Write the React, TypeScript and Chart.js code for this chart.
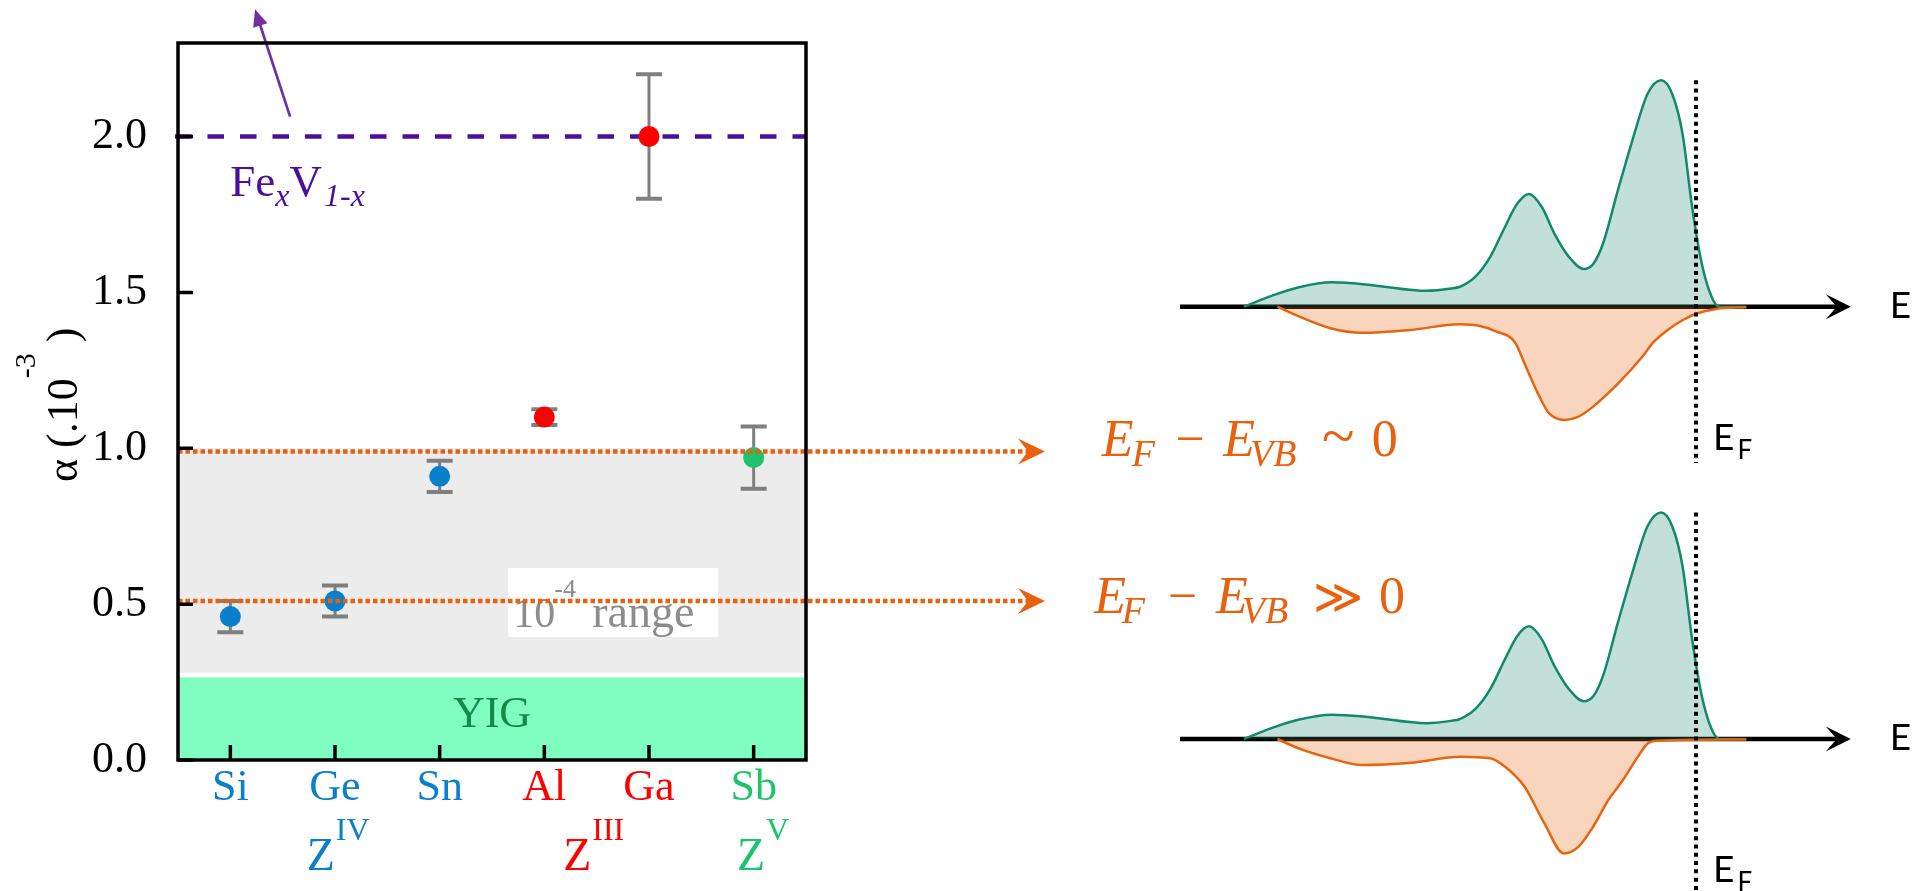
import React, { useEffect, useRef } from "react";
import { Chart, registerables } from "chart.js";

Chart.register(...registerables);

// ---------------- left panel data ----------------
const elements = ["Si", "Ge", "Sn", "Al", "Ga", "Sb"];
const alphaValues = [0.46, 0.51, 0.91, 1.1, 2.0, 0.97];
const alphaErrors = [0.05, 0.05, 0.05, 0.025, 0.2, 0.1];
const elementColors = ["#0a80cc", "#0a80cc", "#0a80cc", "#ff0000", "#ff0000", "#1dc46b"];
const yTickValues = [0, 0.5, 1.0, 1.5, 2.0];
const groupSymbols = ["Z", "Z", "Z"];
const groupValences = ["IV", "III", "V"];
const groupColors = ["#0a80cc", "#ff0000", "#1dc46b"];
const groupStartIndex = [0.73, 3.18, 4.84];
const yigBand = [0, 0.265];
const rangeBand = [0.28, 1.0];
const fexvAlpha = 2.0;
const fermiLevelMarks = [0.99, 0.51];

// ---------------- right panel (DOS sketches) data ----------------
const majorityEnergy = [-7.01, -6.56, -6.17, -5.64, -5.02, -4.18, -3.8, -3.66, -3.42, -3.19, -2.96, -2.77, -2.59, -2.39, -2.2, -1.97, -1.74, -1.59, -1.44, -1.21, -0.97, -0.75, -0.54, -0.37, -0.21, -0.06, 0.09, 0.24, 0.36, 0.78];
const majorityDos = [0, 0.1, 0.17, 0.215, 0.19, 0.14, 0.16, 0.176, 0.265, 0.44, 0.706, 0.91, 0.995, 0.88, 0.65, 0.44, 0.333, 0.38, 0.56, 1.03, 1.5, 1.88, 2.0, 1.88, 1.53, 0.88, 0.38, 0.09, 0, 0];
const minorityEnergyTop = [-6.49, -6.14, -5.67, -5.18, -4.43, -3.66, -3.35, -3.11, -2.8, -2.66, -2.43, -2.28, -2.04, -1.82, -1.59, -1.21, -0.83, -0.67, -0.45, -0.21, 0.01, 0.31, 0.78];
const minorityDosTop = [0, -0.09, -0.19, -0.23, -0.205, -0.156, -0.17, -0.215, -0.32, -0.5, -0.79, -0.94, -1.0, -0.97, -0.88, -0.68, -0.44, -0.32, -0.21, -0.12, -0.06, -0.02, -0.005];
const minorityEnergyBottom = [-6.49, -6.13, -5.67, -5.18, -4.42, -3.65, -3.19, -2.96, -2.66, -2.35, -2.05, -1.82, -1.59, -1.36, -1.13, -0.9, -0.75, -0.6, 0.78];
const minorityDosBottom = [0, -0.09, -0.17, -0.23, -0.21, -0.156, -0.17, -0.245, -0.42, -0.745, -1.01, -0.95, -0.77, -0.54, -0.36, -0.156, -0.04, -0.015, -0.005];

const ORANGE = "#e9600f";
const SERIF = '"Liberation Serif"';

function text(ctx: any, s: string, x: number, y: number, font: string, color: string, align: string = "left") {
  ctx.font = font;
  ctx.fillStyle = color;
  ctx.textAlign = align;
  ctx.textBaseline = "alphabetic";
  ctx.fillText(s, x, y);
  return ctx.measureText(s).width;
}

const upperFormula: [string, number, number, string, string][] = [
  ["E", 56.7, 5, `italic 52px ${SERIF}`, "left"],
  ["F", 86.7, 15, `italic 38px ${SERIF}`, "left"],
  ["\u2212", 145, 5, `52px ${SERIF}`, "center"],
  ["E", 178.3, 5, `italic 52px ${SERIF}`, "left"],
  ["VB", 205, 15, `italic 38px ${SERIF}`, "left"],
  ["~", 293.3, 5, `60px ${SERIF}`, "center"],
  ["0", 326.7, 5, `52px ${SERIF}`, "left"],
];
const lowerFormula: [string, number, number, string, string][] = [
  ["E", 49.3, 12, `italic 52px ${SERIF}`, "left"],
  ["F", 76.7, 22, `italic 38px ${SERIF}`, "left"],
  ["\u2212", 137.3, 12, `52px ${SERIF}`, "center"],
  ["E", 171, 12, `italic 52px ${SERIF}`, "left"],
  ["VB", 196.7, 22, `italic 38px ${SERIF}`, "left"],
  ["\u226B", 293, 12, `48px ${SERIF}`, "center"],
  ["0", 334, 12, `52px ${SERIF}`, "left"],
];

const leftPanelPlugin = {
  id: "leftPanel",
  beforeDatasetsDraw(chart: any) {
    const { ctx, chartArea: a } = chart;
    const xs = chart.scales.x;
    const ys = chart.scales.y;
    const W = a.right - a.left;
    ctx.save();
    // bands
    let t = ys.getPixelForValue(yigBand[1]);
    let b = ys.getPixelForValue(yigBand[0]);
    ctx.fillStyle = "#80fdc0";
    ctx.fillRect(a.left, t, W, b - t);
    t = ys.getPixelForValue(rangeBand[1]);
    b = ys.getPixelForValue(rangeBand[0]);
    ctx.fillStyle = "#ececec";
    ctx.fillRect(a.left, t, W, b - t);
    text(ctx, "YIG", (a.left + a.right) / 2, ys.getPixelForValue(0.105), `44px ${SERIF}`, "#148a4a", "center");
    // 10^-4 range label box
    const bx = xs.getPixelForValue(2.655);
    const by = ys.getPixelForValue(0.616);
    ctx.fillStyle = "#ffffff";
    ctx.fillRect(bx, by, 210, 69);
    text(ctx, "10", bx + 5, by + 59, `42px ${SERIF}`, "#8c8c8c");
    text(ctx, "-4", bx + 46, by + 29, `26px ${SERIF}`, "#8c8c8c");
    text(ctx, "range", bx + 84, by + 59, `46px ${SERIF}`, "#8c8c8c");
    // Fe_xV_1-x reference line
    const fy = ys.getPixelForValue(fexvAlpha);
    ctx.strokeStyle = "#4b0f9c";
    ctx.lineWidth = 4.5;
    ctx.setLineDash([16.5, 16]);
    ctx.beginPath();
    ctx.moveTo(a.left - 3, fy);
    ctx.lineTo(a.right, fy);
    ctx.stroke();
    ctx.setLineDash([]);
    const purple = "#4b0f9c";
    let cx = xs.getPixelForValue(0);
    const base = ys.getPixelForValue(1.81);
    cx += text(ctx, "Fe", cx, base, `45px ${SERIF}`, purple);
    cx += text(ctx, "x", cx, base + 10, `italic 32px ${SERIF}`, purple);
    cx += text(ctx, "V", cx, base, `45px ${SERIF}`, purple);
    text(ctx, "1-x", cx + 2, base + 10, `italic 32px ${SERIF}`, purple);
    // purple arrow (off-scale value)
    const x0 = xs.getPixelForValue(0.571), y0 = ys.getPixelForValue(2.064);
    const x1 = xs.getPixelForValue(0.236), y1 = ys.getPixelForValue(2.408);
    const ang = Math.atan2(y1 - y0, x1 - x0);
    ctx.strokeStyle = "#7030a0";
    ctx.fillStyle = "#7030a0";
    ctx.lineWidth = 2.7;
    ctx.beginPath();
    ctx.moveTo(x0, y0);
    ctx.lineTo(x1 - 12 * Math.cos(ang), y1 - 12 * Math.sin(ang));
    ctx.stroke();
    ctx.beginPath();
    ctx.moveTo(x1, y1);
    ctx.lineTo(x1 - 17 * Math.cos(ang) + 7.5 * Math.sin(ang), y1 - 17 * Math.sin(ang) - 7.5 * Math.cos(ang));
    ctx.lineTo(x1 - 17 * Math.cos(ang) - 7.5 * Math.sin(ang), y1 - 17 * Math.sin(ang) + 7.5 * Math.cos(ang));
    ctx.closePath();
    ctx.fill();
    // error bars
    ctx.strokeStyle = "#7f7f7f";
    alphaValues.forEach((v, i) => {
      const px = xs.getPixelForValue(i);
      const top = ys.getPixelForValue(v + alphaErrors[i]);
      const bot = ys.getPixelForValue(v - alphaErrors[i]);
      ctx.lineWidth = 3;
      ctx.beginPath();
      ctx.moveTo(px, top);
      ctx.lineTo(px, bot);
      ctx.stroke();
      ctx.lineWidth = 4;
      ctx.beginPath();
      ctx.moveTo(px - 13, top);
      ctx.lineTo(px + 13, top);
      ctx.moveTo(px - 13, bot);
      ctx.lineTo(px + 13, bot);
      ctx.stroke();
    });
    ctx.restore();
  },
  afterDatasetsDraw(chart: any) {
    const { ctx, chartArea: a } = chart;
    const ys = chart.scales.y;
    ctx.save();
    const tipX = 1045;
    fermiLevelMarks.forEach((lv, k) => {
      const py = ys.getPixelForValue(lv);
      ctx.strokeStyle = ORANGE;
      ctx.fillStyle = ORANGE;
      ctx.lineWidth = 4.5;
      ctx.setLineDash([4.5, 3]);
      ctx.beginPath();
      ctx.moveTo(a.left, py);
      ctx.lineTo(tipX - 15, py);
      ctx.stroke();
      ctx.setLineDash([]);
      ctx.beginPath();
      ctx.moveTo(tipX, py);
      ctx.lineTo(tipX - 27, py - 13);
      ctx.lineTo(tipX - 17, py);
      ctx.lineTo(tipX - 27, py + 13);
      ctx.closePath();
      ctx.fill();
      const pieces = k === 0 ? upperFormula : lowerFormula;
      pieces.forEach(([s, dx, dy, font, al]) => text(ctx, s, tipX + dx, py + dy, font, ORANGE, al));
    });
    ctx.restore();
  },
  afterDraw(chart: any) {
    const { ctx, chartArea: a } = chart;
    const xs = chart.scales.x;
    const ys = chart.scales.y;
    ctx.save();
    ctx.strokeStyle = "#000";
    ctx.lineWidth = 3.5;
    ctx.strokeRect(a.left, a.top, a.right - a.left, a.bottom - a.top);
    ctx.beginPath();
    yTickValues.forEach((v) => {
      const py = ys.getPixelForValue(v);
      ctx.moveTo(a.left, py);
      ctx.lineTo(a.left + 15, py);
    });
    elements.forEach((_, i) => {
      const px = xs.getPixelForValue(i);
      ctx.moveTo(px, a.bottom);
      ctx.lineTo(px, a.bottom - 15);
    });
    ctx.stroke();
    // y axis title, rotated
    ctx.save();
    ctx.translate(77, 482);
    ctx.rotate(-Math.PI / 2);
    let lx = text(ctx, "\u03B1 (.10", 0, 0, `44px ${SERIF}`, "#000");
    lx += text(ctx, "-3", lx, -42, `30px ${SERIF}`, "#000");
    text(ctx, " )", lx, 0, `44px ${SERIF}`, "#000");
    ctx.restore();
    // group labels Z^IV, Z^III, Z^V
    groupSymbols.forEach((sym, i) => {
      const sx = xs.getPixelForValue(groupStartIndex[i]);
      const w = text(ctx, sym, sx, a.bottom + 110, `46px ${SERIF}`, groupColors[i]);
      text(ctx, groupValences[i], sx + w + 1, a.bottom + 80, `32px ${SERIF}`, groupColors[i]);
    });
    ctx.restore();
  },
};

function makeDosPlugin(efBottomValue: number) {
  return {
    id: "dosDecor",
    beforeDatasetsDraw(chart: any) {
      const { ctx, chartArea: a } = chart;
      const ys = chart.scales.y;
      const y0 = ys.getPixelForValue(0);
      const R = a.right;
      ctx.save();
      ctx.strokeStyle = "#000";
      ctx.fillStyle = "#000";
      ctx.lineWidth = 4.5;
      ctx.beginPath();
      ctx.moveTo(a.left, y0);
      ctx.lineTo(R - 14, y0);
      ctx.stroke();
      ctx.beginPath();
      ctx.moveTo(R, y0);
      ctx.lineTo(R - 25, y0 - 12.5);
      ctx.lineTo(R - 14, y0);
      ctx.lineTo(R - 25, y0 + 12.5);
      ctx.closePath();
      ctx.fill();
      text(ctx, "E", R + 39, y0 + 11, "37px Lato", "#000");
      ctx.restore();
    },
    afterDatasetsDraw(chart: any) {
      const { ctx } = chart;
      const xs = chart.scales.x;
      const ys = chart.scales.y;
      const ef = xs.getPixelForValue(0);
      const y0 = ys.getPixelForValue(0);
      ctx.save();
      ctx.strokeStyle = "#000";
      ctx.lineWidth = 4;
      ctx.setLineDash([4, 4.3]);
      ctx.beginPath();
      ctx.moveTo(ef, ys.getPixelForValue(2.0));
      ctx.lineTo(ef, ys.getPixelForValue(efBottomValue));
      ctx.stroke();
      ctx.setLineDash([]);
      text(ctx, "E", ef + 17, y0 + 143.5, "37px Lato", "#000");
      text(ctx, "F", ef + 41.5, y0 + 152.5, "26px Lato", "#000");
      ctx.restore();
    },
  };
}

function dosConfig(minE: number[], minD: number[], padding: any, efBottom: number) {
  return {
    type: "line",
    data: {
      datasets: [
        {
          data: minE.map((e, i) => ({ x: e, y: minD[i] })),
          borderColor: "#e8650f",
          backgroundColor: "rgba(232,101,15,0.27)",
          fill: "origin",
          borderWidth: 2.5,
          pointRadius: 0,
          cubicInterpolationMode: "monotone",
        },
        {
          data: majorityEnergy.map((e, i) => ({ x: e, y: majorityDos[i] })),
          borderColor: "#12896b",
          backgroundColor: "rgba(18,137,107,0.26)",
          fill: "origin",
          borderWidth: 2.5,
          pointRadius: 0,
          cubicInterpolationMode: "monotone",
        },
      ],
    },
    options: {
      responsive: false,
      animation: false,
      events: [],
      layout: { padding },
      plugins: { legend: { display: false }, tooltip: { enabled: false } },
      scales: {
        x: { type: "linear", min: -8, max: 2.4, display: false },
        y: { type: "linear", min: -1.1, max: 2.1, display: false },
      },
    },
    plugins: [makeDosPlugin(efBottom)],
  } as any;
}

export default function App() {
  const mainRef = useRef<HTMLCanvasElement>(null);
  const topRef = useRef<HTMLCanvasElement>(null);
  const botRef = useRef<HTMLCanvasElement>(null);

  useEffect(() => {
    const main = new Chart(mainRef.current as any, {
      type: "line",
      data: {
        labels: elements,
        datasets: [
          {
            data: alphaValues,
            showLine: false,
            pointRadius: 10.5,
            pointHoverRadius: 10.5,
            pointBorderWidth: 0,
            pointBackgroundColor: elementColors,
            pointBorderColor: elementColors,
          },
        ],
      },
      options: {
        responsive: false,
        animation: false,
        events: [],
        layout: { padding: { left: 0, top: 43, right: 1923 - 806, bottom: 0 } },
        plugins: { legend: { display: false }, tooltip: { enabled: false } },
        scales: {
          x: {
            type: "category",
            offset: true,
            grid: { display: false, drawTicks: false },
            border: { display: false },
            ticks: {
              color: (c: any) => elementColors[c.index],
              font: { family: "Liberation Serif", size: 44 },
              padding: 2,
              autoSkip: false,
              maxRotation: 0,
            },
            afterFit: (s: any) => {
              s.height = 131;
              s.paddingLeft = 0;
              s.paddingRight = 0;
            },
          },
          y: {
            type: "linear",
            min: 0,
            max: 2.3,
            grid: { display: false, drawTicks: false },
            border: { display: false },
            ticks: {
              color: "#000",
              font: { family: "Liberation Serif", size: 44 },
              padding: 31,
              callback: (v: any) => Number(v).toFixed(1),
            },
            afterBuildTicks: (s: any) => {
              s.ticks = yTickValues.map((v) => ({ value: v }));
            },
            afterFit: (s: any) => {
              s.width = 178;
              s.paddingTop = 0;
              s.paddingBottom = 0;
            },
          },
        },
      },
      plugins: [leftPanelPlugin],
    } as any);

    const top = new Chart(
      topRef.current as any,
      dosConfig(minorityEnergyTop, minorityDosTop, { left: 30, right: 72.2, top: 18.8, bottom: 48.7 }, -1.38)
    );
    const bot = new Chart(
      botRef.current as any,
      dosConfig(minorityEnergyBottom, minorityDosBottom, { left: 30, right: 72.2, top: 21.1, bottom: 27.4 }, -1.5)
    );
    return () => {
      main.destroy();
      top.destroy();
      bot.destroy();
    };
  }, []);

  return (
    <div style={{ position: "fixed", left: 0, top: 0, width: 1923, height: 891, background: "#fff", overflow: "hidden" }}>
      <canvas ref={mainRef} width={1923} height={891} style={{ position: "absolute", left: 0, top: 0 }} />
      <canvas ref={topRef} width={773} height={430} style={{ position: "absolute", left: 1150, top: 50 }} />
      <canvas ref={botRef} width={773} height={411} style={{ position: "absolute", left: 1150, top: 480 }} />
    </div>
  );
}
